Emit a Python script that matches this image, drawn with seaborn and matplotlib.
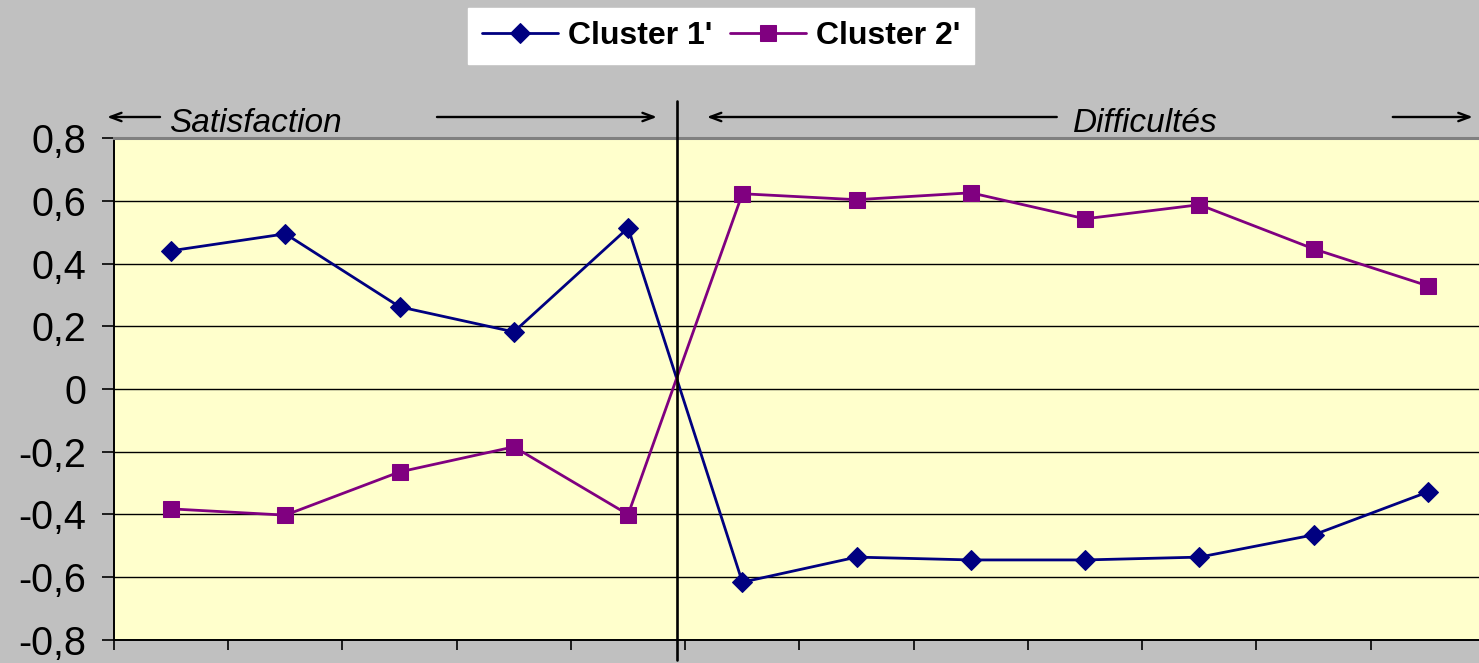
import numpy as np
import pandas as pd
import matplotlib
matplotlib.use("Agg")
import matplotlib.pyplot as plt
import matplotlib.transforms as mtransforms
from matplotlib.ticker import FuncFormatter
import seaborn as sns

# ---- data ----
positions = list(range(12))
cluster1 = [0.441, 0.495, 0.262, 0.182, 0.514, -0.617, -0.537, -0.546, -0.546, -0.537, -0.466, -0.329]
cluster2 = [-0.383, -0.403, -0.265, -0.185, -0.401, 0.623, 0.604, 0.626, 0.543, 0.588, 0.447, 0.329]
series_names = ["Cluster 1'", "Cluster 2'"]
section_labels = ["Satisfaction", "Difficultés"]
n_satisfaction = 5
y_ticks = [-0.8, -0.6, -0.4, -0.2, 0, 0.2, 0.4, 0.6, 0.8]

sns.set_style("white")
plt.rcParams["font.family"] = ["Liberation Sans", "DejaVu Sans"]
plt.rcParams["text.color"] = "black"
plt.rcParams["xtick.labelcolor"] = "black"
plt.rcParams["ytick.labelcolor"] = "black"

W, H = 1479, 663
fig = plt.figure(figsize=(W / 100, H / 100), dpi=100, facecolor="#C0C0C0")
ax_left, ax_right = 114 / W, 1485 / W
ax_bottom, ax_top = 1 - 639.5 / H, 1 - 138.3 / H
ax = fig.add_axes([ax_left, ax_bottom, ax_right - ax_left, ax_top - ax_bottom])
ax.set_facecolor("#FFFFCC")

c1_col, c2_col = "#000080", "#800080"
df = pd.DataFrame({"pos": positions, "c1": cluster1, "c2": cluster2})
sns.lineplot(data=df, x="pos", y="c1", ax=ax, color=c1_col, marker="D", markersize=10,
             linewidth=2.0, markeredgecolor=c1_col, label=series_names[0], zorder=4)
sns.lineplot(data=df, x="pos", y="c2", ax=ax, color=c2_col, marker="s", markersize=11,
             linewidth=2.0, markeredgecolor=c2_col, label=series_names[1], zorder=4)
handles, labels = ax.get_legend_handles_labels()
if ax.get_legend() is not None:
    ax.get_legend().remove()

ax.set_xlim(-0.5, len(positions) - 0.5)
ax.set_ylim(-0.8, 0.8)
ax.set_xlabel("")
ax.set_ylabel("")
ax.set_xticks(np.arange(-0.5, len(positions), 1.0))
ax.set_xticklabels([])
ax.set_yticks(y_ticks)

def fmt(v, pos):
    if abs(v) < 1e-9:
        return "0"
    return ("%.1f" % v).replace(".", ",")
ax.yaxis.set_major_formatter(FuncFormatter(fmt))
ax.tick_params(axis="y", direction="out", length=9, width=1.2, color="black",
               labelsize=28.5, labelcolor="black", pad=11, left=True)
ax.tick_params(axis="x", direction="out", length=7, width=1.2, color="black", bottom=True)

ax.grid(axis="y", color="black", linewidth=1.0, zorder=1)
ax.grid(axis="x", visible=False)
ax.set_axisbelow(True)
for s in ["left", "bottom"]:
    ax.spines[s].set_color("black")
    ax.spines[s].set_linewidth(1.4)
ax.spines["top"].set_color("#808080")
ax.spines["top"].set_linewidth(2.2)
ax.spines["right"].set_visible(False)

# separator at crossing of the two series between sections
i = n_satisfaction - 1
d0 = cluster1[i] - cluster2[i]
d1 = cluster1[i + 1] - cluster2[i + 1]
sep_x = positions[i] + d0 / (d0 - d1)
trans = mtransforms.blended_transform_factory(ax.transData, ax.transAxes)
ax.plot([sep_x, sep_x], [-0.041, 1.0744], color="black", linewidth=1.9,
        transform=trans, clip_on=False, zorder=5)

# section annotations
arrow_y = 1.0425
text_y = 1.0126
arrow_kw = dict(arrowstyle="->,head_length=0.8,head_width=0.3", color="black", lw=1.7,
                shrinkA=0, shrinkB=0)
def arrow(x0, x1):
    ax.annotate("", xy=(x1, arrow_y), xytext=(x0, arrow_y), xycoords=trans,
                textcoords=trans, arrowprops=arrow_kw, annotation_clip=False)

arrow(-0.097, -0.561)
ax.text(0.738, text_y, section_labels[0], transform=trans, ha="center", va="baseline",
        fontsize=24, fontstyle="italic", color="black", clip_on=False)
arrow(2.327, 4.252)
arrow(7.752, 4.689)
ax.text(8.531, text_y, section_labels[1], transform=trans, ha="center", va="baseline",
        fontsize=24, fontstyle="italic", color="black", clip_on=False)
arrow(10.693, 11.393)

leg = fig.legend(handles, labels, loc="center", bbox_to_anchor=(721 / W, 1 - 36 / H),
                 ncol=2, frameon=True, fancybox=False, framealpha=1,
                 facecolor="white", edgecolor="white",
                 prop={"weight": "bold", "size": 23}, handlelength=2.4,
                 handletextpad=0.3, columnspacing=0.55, borderpad=0.42,
                 borderaxespad=0)
for t in leg.get_texts():
    t.set_color("black")

fig.savefig("out.png", dpi=100, facecolor=fig.get_facecolor())
